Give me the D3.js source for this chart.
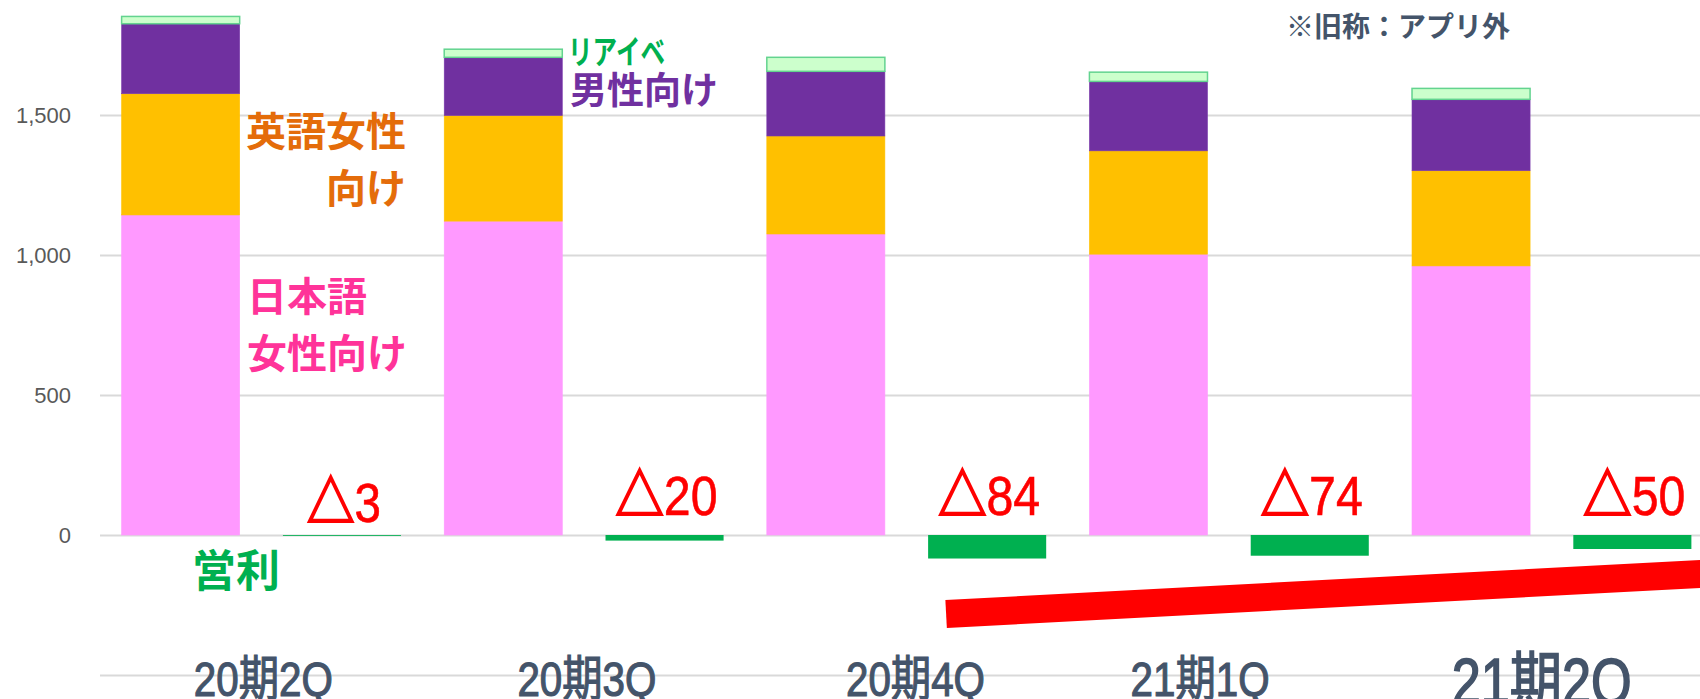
<!DOCTYPE html>
<html>
<head>
<meta charset="utf-8">
<script src="https://cdn.jsdelivr.net/npm/d3@7"></script>
<style>
  html, body { margin: 0; padding: 0; background: #ffffff; }
  svg { display: block; }
</style>
</head>
<body>
<div id="chart"></div>
<script>
// quarters
var categories = ['20期2Q', '20期3Q', '20期4Q', '21期1Q', '21期2Q'];
// revenue by segment (stacked, bottom to top)
var jpWomen  = [1143, 1121, 1075, 1003, 961];
var enWomen  = [433, 377, 350, 369, 340];
var menApps  = [250, 208, 231, 248, 255];
var liveEvt  = [26, 29, 50, 33, 39];
// operating profit
var opProfit = [-3, -20, -84, -74, -50];
var opLabels = ['3', '20', '84', '74', '50'];
var yTicks = [-500, 0, 500, 1000, 1500];

var W = 1700, H = 699;
var svg = d3.select('#chart').append('svg').attr('width', W).attr('height', H);

var x = d3.scaleBand().domain(categories).range([100, 1713]).padding(0);
var xSub = d3.scaleBand().domain(['rev', 'op']).range([0, x.bandwidth()])
  .paddingInner(0.268).paddingOuter(0.134);
var y = d3.scaleLinear().domain([-500, 2000]).range([675, -25]);

// gridlines + y labels
var yAxis = d3.axisLeft(y).tickValues(yTicks).tickSize(-(W - 100))
  .tickFormat(function(d){ return d < 0 ? '' : d3.format(',')(d); });
var gy = svg.append('g').attr('transform', 'translate(100,0)').call(yAxis);
gy.select('.domain').remove();
gy.selectAll('.tick line').attr('stroke', '#d9d9d9').attr('stroke-width', 2);
gy.selectAll('.tick text').attr('x', -29).attr('fill', '#595959')
  .style('font-family', '"Liberation Sans", Arial, sans-serif').style('font-size', '22px');

// stacked revenue bars
var rows = categories.map(function(c, i){
  return {cat: c, jp: jpWomen[i], en: enWomen[i], men: menApps[i], evt: liveEvt[i]};
});
var keys = ['jp', 'en', 'men', 'evt'];
var fills = {jp: '#ff99ff', en: '#ffc000', men: '#7030a0', evt: '#ccffcc'};
var strokes = {jp: '#ff99ff', en: '#ffc000', men: '#7a3aab', evt: '#63d38f'};
var stacked = d3.stack().keys(keys)(rows);

svg.append('g').selectAll('g').data(stacked).enter().append('g')
  .each(function(layer){
    d3.select(this).selectAll('rect').data(layer).enter().append('rect')
      .attr('x', function(d){ return x(d.data.cat) + xSub('rev'); })
      .attr('y', function(d){ return y(d[1]); })
      .attr('width', xSub.bandwidth())
      .attr('height', function(d){ return y(d[0]) - y(d[1]); })
      .attr('fill', fills[layer.key])
      .attr('stroke', strokes[layer.key])
      .attr('stroke-width', layer.key == 'evt' ? 1.5 : 0.6);
  });

// operating profit bars
svg.append('g').selectAll('rect').data(opProfit).enter().append('rect')
  .attr('x', function(d, i){ return x(categories[i]) + xSub('op'); })
  .attr('y', function(d){ return y(Math.max(0, d)); })
  .attr('width', xSub.bandwidth())
  .attr('height', function(d){ return Math.abs(y(d) - y(0)); })
  .attr('fill', '#00b050');

// profit labels (triangle = minus)
var pl = svg.append('g').selectAll('text').data(opLabels).enter().append('text')
  .attr('x', function(d, i){ return x(categories[i]) + xSub('op') + xSub.bandwidth() / 2 + 2; })
  .attr('y', function(d, i){ return i == 0 ? y(0) - 13 : y(0) - 20; })
  .attr('text-anchor', 'middle')
  .attr('fill', '#ff0000')
  .attr('stroke', '#ff0000').attr('stroke-width', 0.6)
  .attr('textLength', function(d){ return d.length == 1 ? 74 : 102; })
  .attr('lengthAdjust', 'spacingAndGlyphs')
  .style('font-family', '"Liberation Sans", Arial, sans-serif')
  .style('font-size', '56px');
pl.append('tspan').style('font-family', '"Noto Sans CJK JP", sans-serif')
  .attr('stroke-width', 2.2).text('△');
pl.append('tspan').text(function(d){ return d; });

// trend arrow (cut off at right edge)
var arrowStart = x('20期4Q') + xSub('op') + 18;
svg.append('line')
  .attr('x1', arrowStart).attr('y1', y(-282))
  .attr('x2', 1760).attr('y2', y(-128))
  .attr('stroke', '#ff0000').attr('stroke-width', 28);

// category labels
var catNudge = [2, 3, 9, -29, -10];
svg.append('g').selectAll('text').data(categories).enter().append('text')
  .attr('x', function(d, i){ return x(d) + x.bandwidth() / 2 + catNudge[i]; })
  .attr('y', function(d, i){ return i == 4 ? 704 : 696; })
  .attr('text-anchor', 'middle')
  .attr('fill', '#44546a')
  .attr('stroke', '#44546a')
  .attr('stroke-width', function(d, i){ return i == 4 ? 1.6 : 1.2; })
  .attr('textLength', function(d, i){ return i == 4 ? 180 : 139; })
  .attr('lengthAdjust', 'spacingAndGlyphs')
  .style('font-family', '"Liberation Sans", "Noto Sans CJK JP", sans-serif')
  .style('font-size', function(d, i){ return i == 4 ? '64px' : '49px'; })
  .text(function(d){ return d; });

// segment annotations
function note(txt, px, py, color, size, anchor, len){
  var t = svg.append('text').attr('x', px).attr('y', py)
    .attr('fill', color).attr('text-anchor', anchor || 'start')
    .style('font-family', '"Noto Sans CJK JP", sans-serif')
    .style('font-weight', 700).style('font-size', size + 'px')
    .text(txt);
  if (len) t.attr('textLength', len).attr('lengthAdjust', 'spacingAndGlyphs');
  return t;
}
note('英語女性', 406, 146, '#e46c0a', 40, 'end');
note('向け', 406, 203, '#e46c0a', 40, 'end');
note('日本語', 247, 311, '#ff3399', 40);
note('女性向け', 247, 368, '#ff3399', 40);
note('リアイベ', 568, 64, '#00b050', 33, 'start', 97);
note('男性向け', 570, 104, '#7030a0', 37);
note('営利', 192, 587, '#00b050', 44);
note('※旧称：アプリ外', 1286, 37, '#44546a', 28);
</script>
</body>
</html>
